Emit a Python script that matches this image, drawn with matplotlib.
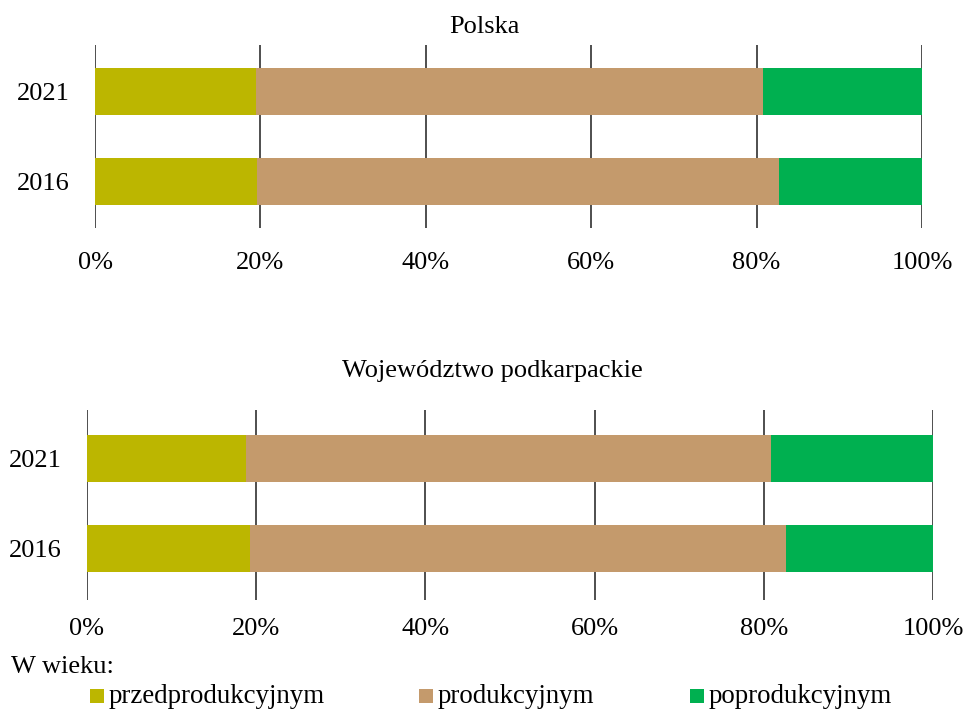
import matplotlib
matplotlib.use("Agg")
import matplotlib.pyplot as plt
from matplotlib.patches import Rectangle

plt.rcParams['font.family'] = ['Liberation Serif', 'DejaVu Serif']

years = ["2016", "2021"]
series = ["przedprodukcyjnym", "produkcyjnym", "poprodukcyjnym"]
colors = ["#BCB600", "#C49A6C", "#00B050"]

polska = {
    "przedprodukcyjnym": [19.6, 19.5],
    "produkcyjnym": [63.1, 61.3],
    "poprodukcyjnym": [17.3, 19.2],
}
podkarpackie = {
    "przedprodukcyjnym": [19.3, 18.8],
    "produkcyjnym": [63.3, 62.1],
    "poprodukcyjnym": [17.4, 19.1],
}
xticks = [0, 20, 40, 60, 80, 100]
xticklabels = ["0%", "20%", "40%", "60%", "80%", "100%"]

W, H = 963, 709
FS = 19
fig = plt.figure(figsize=(W / 100, H / 100), dpi=100)

def px_axes(left, right, top, bottom):
    return fig.add_axes([left / W, 1 - bottom / H, (right - left) / W, (bottom - top) / H])

def draw(ax, data, ylim, xpad):
    left = [0.0, 0.0]
    for s, c in zip(series, colors):
        vals = data[s]
        ax.barh(range(len(years)), vals, left=left, height=0.52, color=c, zorder=2)
        left = [l + v for l, v in zip(left, vals)]
    ax.set_xlim(0, 100)
    ax.set_ylim(*ylim)
    ax.set_yticks(range(len(years)))
    ax.set_yticklabels(years)
    ax.set_xticks(xticks)
    ax.set_xticklabels(xticklabels)
    ax.tick_params(axis='both', length=0, labelsize=FS)
    ax.tick_params(axis='x', pad=xpad)
    ax.tick_params(axis='y', pad=18)
    for sp in ax.spines.values():
        sp.set_visible(False)
    ax.grid(axis='x', color='#303030', linewidth=1.2, zorder=1)
    ax.set_axisbelow(True)

ax1 = px_axes(95, 922, 45, 228)
draw(ax1, polska, (-0.517, 1.517), 17)
ax2 = px_axes(87, 933, 410, 600)
draw(ax2, podkarpackie, (-0.572, 1.539), 13)

fig.text(484 / W, 1 - 33 / H, "Polska", ha='center', va='baseline', fontsize=FS)
fig.text(492 / W, 1 - 377 / H, "Województwo podkarpackie", ha='center', va='baseline', fontsize=FS)

fig.text(11 / W, 1 - 673 / H, "W wieku:", ha='left', va='baseline', fontsize=FS)
legend_x = [90, 419, 690]
for x, s, c in zip(legend_x, series, colors):
    fig.patches.append(Rectangle((x / W, 1 - 703 / H), 14 / W, 14 / H,
                                 transform=fig.transFigure, facecolor=c, edgecolor='none'))
    fig.text((x + 19) / W, 1 - 703 / H, s, ha='left', va='baseline', fontsize=19.4)

fig.savefig("out.png", dpi=100)
